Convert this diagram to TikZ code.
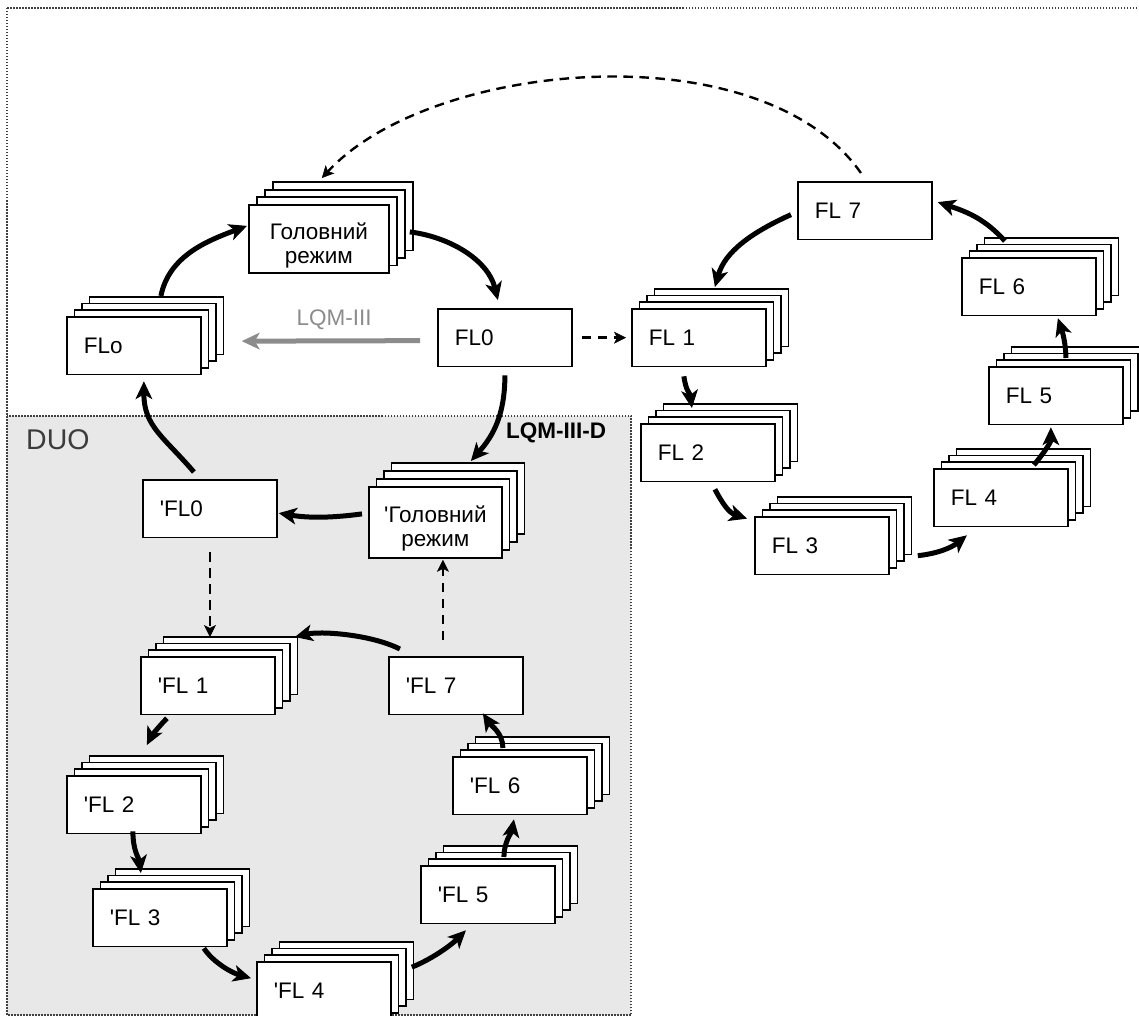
\documentclass[tikz,border=0pt]{standalone}
\usepackage{fontspec}
\setmainfont{Liberation Sans}
\usetikzlibrary{arrows.meta,shadows,calc}
\definecolor{duofill}{HTML}{E8E8E8}
\definecolor{framecol}{HTML}{404040}
\definecolor{lqmgray}{HTML}{8C8C8C}
\definecolor{duotext}{HTML}{3C3C3C}
\newcommand{\myq}{\textquotesingle}
\newcommand{\mystrut}{\rule{0pt}{29pt}}
\tikzset{
  basefont/.style={font=\fontsize{22.5pt}{24pt}\selectfont},
  box/.style={draw=black, line width=1.8pt, fill=white, rectangle, anchor=north west,
    text width=100pt, inner xsep=17pt, inner ysep=0pt, minimum height=57.5pt,
    align=left, basefont},
  gbox/.style={draw=black, line width=1.8pt, fill=white, rectangle, anchor=north west,
    inner sep=0pt, align=center, basefont},
  stk/.style={copy shadow={shadow xshift=22.5pt,shadow yshift=20pt},
              copy shadow={shadow xshift=15pt,shadow yshift=13.4pt},
              copy shadow={shadow xshift=7.5pt,shadow yshift=6.7pt}},
  gstk/.style={copy shadow={shadow xshift=24pt,shadow yshift=22.5pt},
              copy shadow={shadow xshift=16pt,shadow yshift=15pt},
              copy shadow={shadow xshift=8pt,shadow yshift=7.5pt}},
  pgstk/.style={copy shadow={shadow xshift=22.5pt,shadow yshift=24pt},
              copy shadow={shadow xshift=15pt,shadow yshift=16pt},
              copy shadow={shadow xshift=7.5pt,shadow yshift=8pt}},
  flow/.style={line width=5pt, -{Stealth[length=18pt,width=17pt,inset=5pt,line width=1pt]}},
  greyflow/.style={flow, draw=lqmgray},
  dflow/.style={line width=2.4pt, dash pattern=on 9.5pt off 6.5pt,
    -{Stealth[length=12pt,width=12pt,inset=3pt,line width=0.5pt]}},
  framebox/.style={draw=framecol, line width=1.5pt, dash pattern=on 1.5pt off 1.5pt},
}
\begin{document}
\begin{tikzpicture}[x=1pt,y=-1pt]
\useasboundingbox (0,0) rectangle (1139,1016);
\clip (0,0) rectangle (1139,1016);
\fill[white] (0,0) rectangle (1139,1016);
% outer frame
\draw[framebox] (7,8) rectangle (1160,1040);
% DUO area
\draw[framebox, fill=duofill] (7,416) rectangle (631,1015);
\node[anchor=west, inner sep=0pt, text=duotext, font=\fontsize{28.5pt}{30pt}\selectfont] (duo) at (26,440) {DUO};
\node[anchor=west, inner sep=0pt, font={\fontsize{22.5pt}{24pt}\selectfont\bfseries}] (lqmd) at (506,433) {LQM-III-D};
\node[inner sep=0pt, basefont, text=lqmgray] (lqm) at (334,320) {LQM-III};

% upper loop
\node[gbox, gstk, minimum width=140pt, minimum height=68pt] (gol) at (248,204) {\mystrut Головний\\режим};
\node[box] (fl0) at (437,308) {FL0};
\node[box, stk] (flo) at (66,316) {FLo};
\node[box, stk] (fl1) at (631,308) {FL 1};
\node[box, stk] (fl2) at (640,423) {FL 2};
\node[box, stk] (fl3) at (754,516) {FL 3};
\node[box, stk] (fl4) at (933,468) {FL 4};
\node[box, stk] (fl5) at (988,366) {FL 5};
\node[box, stk] (fl6) at (961,257) {FL 6};
\node[box] (fl7) at (797,181) {FL 7};

% DUO loop
\node[box] (pfl0) at (142,479) {\myq FL0};
\node[gbox, pgstk, minimum width=133pt, minimum height=71pt] (pgol) at (368,486) {\mystrut\myq Головний\\режим};
\node[box, stk] (pfl1) at (140,656) {\myq FL 1};
\node[box, stk] (pfl2) at (66,775) {\myq FL 2};
\node[box, stk] (pfl3) at (92,888) {\myq FL 3};
\node[box, stk] (pfl4) at (256,961) {\myq FL 4};
\node[box, stk] (pfl5) at (420,865) {\myq FL 5};
\node[box, stk] (pfl6) at (452,756) {\myq FL 6};
\node[box] (pfl7) at (388,656) {\myq FL 7};

% connectors, upper part
\draw[flow] ($(flo.north)+(27,-20)$) .. controls +(8,-40) and +(-40,15) .. ($(gol.west)+(-1,-13)$);
\draw[flow] ($(gol.east)+(20,-7)$) .. controls +(40,5) and +(-10,-40) .. ($(fl0.north)+(-7,-8)$);
\draw[flow] ($(fl0.south)+(0,8)$) .. controls +(0,40) and +(22,-25) .. ($(pgol.north)+(35.5,-25)$);
\draw[flow] ($(pgol.west)+(-6,-8.5)$) .. controls +(-30,4) and +(30,5) .. ($(pfl0.east)+(1,4.5)$);
\draw[flow] ($(pfl0.north)+(-16,-7)$) .. controls +(-30,-35) and +(0,45) .. ($(flo.south)+(10,6)$);
\draw[greyflow] ($(fl0.west)+(-17,3)$) -- ($(flo.east)+(40,-4.5)$);
\draw[dflow] ($(fl0.east)+(9,0)$) -- ($(fl1.west)+(-5,0)$);
\draw[dflow] ($(fl7.north)+(-4,-8)$) .. controls +(-100,-143) and +(109,-118) .. ($(gol.north)+(3,-26)$);

\draw[flow] ($(fl7.west)+(-6,4)$) .. controls +(-40,18) and +(10,-35) .. ($(fl1.north)+(16,-21)$);
\draw[flow] ($(fl1.south)+(-15,9)$) .. controls +(2,15) and +(-2,-15) .. ($(fl2.north)+(-16,-15)$);
\draw[flow] ($(fl2.south)+(7,7)$) .. controls +(8,15) and +(-18,-6) .. ($(fl3.west)+(-7,-27)$);
\draw[flow] ($(fl3.east)+(28,10)$) .. controls +(20,-2) and +(-15,12) .. ($(fl4.south)+(-34,8)$);
\draw[flow] ($(fl4.north)+(33,-3)$) .. controls +(10,-12) and +(0,15) .. ($(fl5.south)+(-5,2)$);
\draw[flow] ($(fl5.north)+(10,-8)$) .. controls +(0,-15) and +(4,12) .. ($(fl6.south)+(29,2)$);
\draw[flow] ($(fl6.north)+(-24,-16)$) .. controls +(-20,-22) and +(30,10) .. ($(fl7.east)+(5,-8.5)$);

% connectors, DUO part
\draw[dflow] ($(pfl0.south)+(0,14)$) -- ($(pfl1.north)+(2,-19)$);
\draw[dflow] ($(pfl7.north)+(-13,-16)$) -- ($(pgol.south)+(7.5,1)$);
\draw[flow] ($(pfl7.north)+(-56,-7)$) .. controls +(-30,-15) and +(25,-6) .. ($(pfl1.north)+(87,-19)$);
\draw[flow] ($(pfl1.south)+(-41,3)$) .. controls +(-8,8) and +(4,-8) .. ($(pfl2.north)+(13,-30)$);
\draw[flow] ($(pfl2.south)+(-1,-3)$) .. controls +(0,20) and +(-2,-15) .. ($(pfl3.north)+(-19,-15)$);
\draw[flow] ($(pfl3.south)+(44,1)$) .. controls +(10,15) and +(-18,-5) .. ($(pfl4.west)+(-5,-12.5)$);
\draw[flow] ($(pfl4.east)+(20,-23.5)$) .. controls +(20,-8) and +(-15,15) .. ($(pfl5.south)+(-22,6)$);
\draw[flow] ($(pfl5.north)+(16,-8)$) .. controls +(0,-15) and +(-2,12) .. ($(pfl6.south)+(-6,4)$);
\draw[flow] ($(pfl6.north)+(-17,-8)$) .. controls +(0,-15) and +(8,12) .. ($(pfl7.south)+(27,-2)$);
\end{tikzpicture}
\end{document}
